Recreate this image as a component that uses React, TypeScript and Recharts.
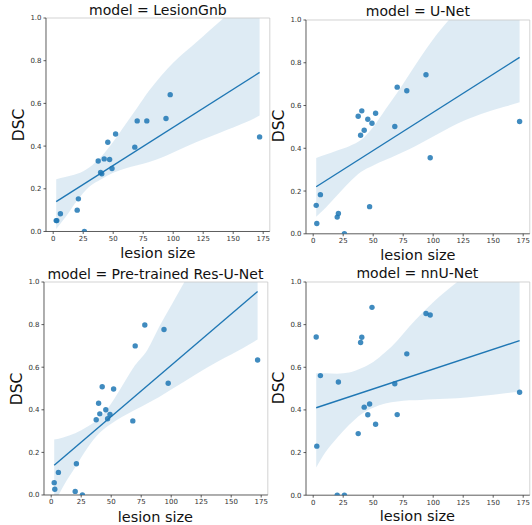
import React from "react";
import {
    ComposedChart,
    Area,
    Line,
    Scatter,
    XAxis,
    YAxis,
    ReferenceLine,
} from "recharts";

// lesion sizes are shared by all four models
const lesionSize = [2.5, 3, 6, 20, 21, 26, 37.5, 39.5, 40.5, 42.5, 45.5, 47, 49, 52, 68, 70, 78, 94, 97.5, 172];

const dscLesionGnb = [0.051, 0.051, 0.083, 0.1, 0.153, 0.0, 0.33, 0.276, 0.27, 0.34, 0.418, 0.337, 0.295, 0.457, 0.395, 0.518, 0.518, 0.529, 0.641, 0.443];
const dscUNet = [0.133, 0.048, 0.183, 0.078, 0.095, 0.0, 0.55, 0.461, 0.575, 0.484, 0.536, 0.127, 0.517, 0.564, 0.502, 0.686, 0.669, 0.744, 0.356, 0.525];
const dscResUNet = [0.058, 0.027, 0.106, 0.017, 0.147, 0.0, 0.353, 0.431, 0.381, 0.508, 0.4, 0.358, 0.378, 0.498, 0.348, 0.7, 0.798, 0.777, 0.525, 0.634];
const dscNnUNet = [0.742, 0.23, 0.561, 0.0, 0.531, 0.0, 0.289, 0.716, 0.741, 0.413, 0.377, 0.428, 0.881, 0.333, 0.523, 0.378, 0.663, 0.852, 0.845, 0.483];

// regression line ends (at x = 2.5 and x = 172)
const fitX = [2.5, 172];
const fitLesionGnb = [0.14, 0.745];
const fitUNet = [0.22, 0.825];
const fitResUNet = [0.14, 0.955];
const fitNnUNet = [0.41, 0.725];

// confidence band
const bandX = [2.5, 10, 20, 30, 40, 50, 60, 70, 80, 90, 100, 120, 140, 160, 172];
const lowLesionGnb = [0.012, 0.065, 0.145, 0.21, 0.245, 0.275, 0.295, 0.31, 0.325, 0.345, 0.37, 0.42, 0.465, 0.51, 0.543];
const highLesionGnb = [0.245, 0.255, 0.27, 0.3, 0.35, 0.42, 0.5, 0.58, 0.66, 0.73, 0.79, 0.89, 0.99, 1.08, 1.13];
const lowUNet = [0.08, 0.12, 0.18, 0.24, 0.29, 0.32, 0.345, 0.37, 0.395, 0.425, 0.455, 0.515, 0.56, 0.595, 0.615];
const highUNet = [0.355, 0.37, 0.39, 0.41, 0.44, 0.5, 0.58, 0.66, 0.745, 0.83, 0.91, 1.04, 1.12, 1.2, 1.25];
const lowResUNet = [-0.04, 0.04, 0.13, 0.22, 0.29, 0.335, 0.37, 0.4, 0.43, 0.46, 0.495, 0.565, 0.63, 0.69, 0.73];
const highResUNet = [0.26, 0.27, 0.29, 0.32, 0.36, 0.43, 0.52, 0.61, 0.68, 0.79, 0.89, 1.08, 1.2, 1.3, 1.35];
const lowNnUNet = [0.13, 0.2, 0.27, 0.33, 0.38, 0.41, 0.43, 0.44, 0.445, 0.447, 0.45, 0.455, 0.465, 0.478, 0.485];
const highNnUNet = [0.572, 0.572, 0.57, 0.575, 0.595, 0.625, 0.67, 0.725, 0.79, 0.85, 0.905, 1.0, 1.08, 1.15, 1.2];

const xTicks = [0, 25, 50, 75, 100, 125, 150, 175];
const yTicks = [0, 0.2, 0.4, 0.6, 0.8, 1.0];

const BLUE = "#1f77b4";
const FONT = "'DejaVu Sans', sans-serif";

interface Panel {
    model: string;
    dsc: number[];
    fit: number[];
    low: number[];
    high: number[];
    // plot area in page px
    left: number;
    top: number;
    bottom: number;
}

const panels: Panel[] = [
    { model: "LesionGnb", dsc: dscLesionGnb, fit: fitLesionGnb, low: lowLesionGnb, high: highLesionGnb, left: 46, top: 18, bottom: 231.5 },
    { model: "U-Net", dsc: dscUNet, fit: fitUNet, low: lowUNet, high: highUNet, left: 306, top: 19.5, bottom: 233.3 },
    { model: "Pre-trained Res-U-Net", dsc: dscResUNet, fit: fitResUNet, low: lowResUNet, high: highResUNet, left: 43.5, top: 282, bottom: 495 },
    { model: "nnU-Net", dsc: dscNnUNet, fit: fitNnUNet, low: lowNnUNet, high: highNnUNet, left: 305.5, top: 281.5, bottom: 494.7 },
];

const PLOT_W = 223.8;
const Y_W = 30;
const X_H = 20;
const M = { top: 10, right: 2, bottom: 0, left: 10 };

const tickStyle = { fontSize: 7, fill: "#333", fontFamily: FONT };

function Dot(props: any) {
    const { cx, cy } = props;
    if (cx == null || cy == null) return null;
    return <circle cx={cx} cy={cy} r={2.7} fill={BLUE} fillOpacity={0.85} />;
}

const labelStyle: React.CSSProperties = {
    position: "absolute",
    transform: "translate(-50%, -50%)",
    whiteSpace: "nowrap",
    lineHeight: 1,
    fontFamily: FONT,
    color: "#111",
};

function FacetPanel({ p }: { p: Panel }) {
    const plotH = p.bottom - p.top;
    const width = M.left + Y_W + PLOT_W + M.right;
    const height = M.top + plotH + X_H + M.bottom;
    const chartLeft = p.left - M.left - Y_W;
    const chartTop = p.top - M.top;

    const bandData = bandX.map((x, i) => ({ x, band: [p.low[i], p.high[i]] }));
    const fitData = fitX.map((x, i) => ({ x, fit: p.fit[i] }));
    const points = lesionSize.map((x, i) => ({ x, dsc: p.dsc[i] }));
    const cx = p.left + PLOT_W / 2;

    return (
        <>
            <div style={{ position: "absolute", left: chartLeft, top: chartTop }}>
                <ComposedChart width={width} height={height} data={bandData} margin={M}>
                    <XAxis
                        dataKey="x"
                        type="number"
                        domain={[-6, 180.5]}
                        ticks={xTicks}
                        height={X_H}
                        tick={tickStyle}
                        tickSize={2.5}
                        tickLine={{ stroke: "#333", strokeWidth: 0.8 }}
                        axisLine={{ stroke: "#333", strokeWidth: 0.8 }}
                        allowDataOverflow
                    />
                    <YAxis
                        type="number"
                        domain={[0, 1]}
                        ticks={yTicks}
                        width={Y_W}
                        tick={tickStyle}
                        tickFormatter={(v: number) => v.toFixed(1)}
                        tickSize={2.5}
                        tickLine={{ stroke: "#333", strokeWidth: 0.8 }}
                        axisLine={{ stroke: "#333", strokeWidth: 0.8 }}
                        allowDataOverflow
                    />
                    <ReferenceLine y={1} stroke="#c8c8c8" strokeWidth={0.8} />
                    <ReferenceLine x={180.5} stroke="#c8c8c8" strokeWidth={0.8} />
                    <Area
                        dataKey="band"
                        type="monotone"
                        stroke="none"
                        fill={BLUE}
                        fillOpacity={0.15}
                        isAnimationActive={false}
                    />
                    <Scatter
                        data={points}
                        dataKey="dsc"
                        shape={<Dot />}
                        isAnimationActive={false}
                    />
                    <Line
                        data={fitData}
                        dataKey="fit"
                        stroke={BLUE}
                        strokeWidth={1.4}
                        dot={false}
                        isAnimationActive={false}
                    />
                </ComposedChart>
            </div>
            <div style={{ ...labelStyle, left: cx, top: p.top - 8.5, fontSize: 14 }}>
                {`model = ${p.model}`}
            </div>
            <div style={{ ...labelStyle, left: cx, top: p.bottom + 21.5, fontSize: 14.5 }}>
                lesion size
            </div>
            <div
                style={{
                    ...labelStyle,
                    left: p.left - 26,
                    top: (p.top + p.bottom) / 2,
                    fontSize: 15.5,
                    transform: "translate(-50%, -50%) rotate(-90deg)",
                }}
            >
                DSC
            </div>
        </>
    );
}

export default function App() {
    return (
        <div
            style={{
                position: "absolute",
                left: 0,
                top: 0,
                width: 532,
                height: 525,
                background: "#fff",
                overflow: "hidden",
            }}
        >
            {panels.map((p) => (
                <FacetPanel key={p.model} p={p} />
            ))}
        </div>
    );
}
